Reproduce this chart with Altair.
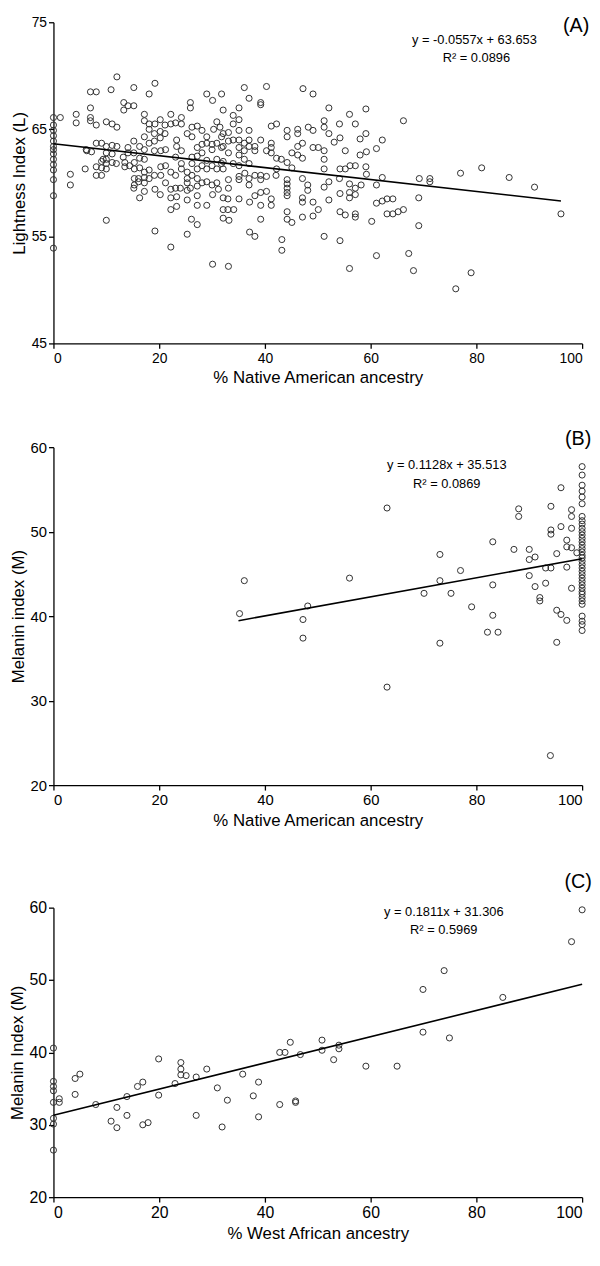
import altair as alt
import pandas as pd

FONT = "Liberation Sans"

# ---------------- Panel A: Lightness index vs % Native American ancestry
a_x = [0, 0, 0, 0, 0, 0, 0, 0, 0, 0, 0, 0, 0, 0,
       1.3, 4.3, 4.3, 3.2, 3.2, 6.2, 6.0, 7.0, 8.1, 7.0, 7.0, 7.0, 8.1, 8.1, 7.2, 8.1,
       8.1, 9.1, 9.1, 9.4, 10.0, 10.0, 10.0, 10.0, 10.9, 10.0, 11.1, 11.1, 11.1, 11.1,
       12.0, 12.0, 12.0, 9.1, 6.3, 9.1,
       15.2, 19.2, 18.1, 13.3, 13.3, 14.1, 15.2, 17.2, 17.2, 18.1, 19.2, 20.2, 22.2, 21.1,
       22.2, 23.1, 24.2, 24.2, 25.9, 25.9, 29.0, 30.1, 31.8, 26.2, 27.2, 28.1, 25.3, 26.2,
       30.9, 31.5, 30.3, 29.0, 29.0, 30.0, 30.9, 31.8, 18.1, 17.2, 19.1, 20.2, 20.2, 21.1,
       19.1, 18.1, 15.2, 16.3, 17.2, 23.3, 23.3, 24.2, 27.2, 28.1, 28.1, 30.0, 31.8, 14.1,
       15.2, 14.1, 13.2, 20.3, 21.2, 19.1, 17.2, 16.3, 15.3, 13.5, 11.9, 10.0, 10.0, 13.5,
       14.4, 15.3, 16.3, 17.2, 18.1, 19.1, 18.1, 17.2, 15.3, 16.1, 15.3, 16.1, 17.2, 20.3,
       21.2, 23.1, 24.2, 24.2, 26.2, 27.2, 28.1, 29.0, 30.0, 30.9, 31.8, 29.0, 30.9, 26.2,
       27.2, 22.2, 23.1, 25.3, 25.3, 26.2, 27.2, 25.3, 28.1, 29.0, 30.0, 30.9, 20.3, 21.2,
       23.1, 24.0, 25.9, 27.2,
       15.2, 16.3, 17.2, 19.2, 20.2, 19.2, 22.2, 22.2, 23.3, 22.2, 23.3, 25.3, 25.3, 27.2,
       27.2, 26.1, 27.2, 25.3, 22.2, 30.1, 29.0, 31.2, 32.1, 32.1, 30.1,
       33.1, 33.0, 32.1, 33.2, 33.0, 34.1, 35.1, 37.1, 38.1, 39.2, 40.3, 41.2, 41.2, 39.2,
       39.2, 37.1, 38.1, 43.2, 43.2, 44.2, 44.2, 44.2, 44.2, 45.1, 47.1, 47.1, 47.1, 48.1,
       49.1, 49.1, 50.1, 51.2, 52.1, 54.2, 54.2, 54.2, 55.2, 56.0, 56.0, 56.0, 57.1, 57.1,
       57.1, 60.2, 61.1, 62.2, 61.1, 63.1, 63.1,
       64.2, 64.2, 65.2, 66.2, 69.1, 69.1, 67.2, 68.1, 79.0, 76.1, 96.0, 66.2, 69.2, 71.2,
       71.2, 77.0, 81.0, 86.2, 91.0,
       36.1, 40.3, 37.0, 39.2, 39.2, 32.1, 35.1, 34.0, 35.1, 34.0, 47.2, 49.1, 52.1, 56.0,
       59.1, 51.2, 51.2, 54.1, 57.1, 41.2, 42.2, 44.2, 44.2, 46.2, 46.2, 48.2, 49.1, 52.1,
       59.1, 58.0, 62.2, 61.1, 59.2, 58.0, 59.1, 59.2, 56.1, 57.1, 55.2, 54.2, 55.2, 54.2,
       53.1, 51.2, 51.2, 51.2, 50.1, 49.1, 47.1, 46.2, 47.1, 46.2, 45.1, 44.2, 45.1, 43.1,
       42.2, 41.2, 41.2, 41.2, 39.2, 40.3, 38.1, 38.1, 37.0, 37.0, 36.1, 35.1, 34.0, 33.1,
       32.1, 33.1, 35.1, 37.0, 32.1, 33.1, 35.1, 36.1, 35.1, 36.1, 37.0, 35.1, 34.0, 32.1,
       32.1, 33.1, 35.1, 35.1, 36.2, 37.0, 38.1, 39.2, 40.3, 39.2, 37.0, 33.1, 42.1, 42.2,
       44.2, 44.2, 44.2, 47.1, 48.1, 51.2, 52.1, 54.1, 56.0, 57.1, 61.1, 62.2, 58.2]
a_y = [66.1, 65.4, 64.9, 64.4, 63.9, 63.4, 63.1, 62.7, 62.2, 61.7, 61.2, 60.3, 58.8, 53.9,
       66.1, 66.4, 65.6, 60.8, 59.8, 63.1, 61.3, 68.5, 68.5, 67.0, 66.1, 65.8, 65.4, 63.7, 62.9, 61.5,
       60.7, 61.4, 60.7, 62.2, 63.4, 62.8, 62.2, 56.5, 68.7, 65.7, 65.5, 63.5, 62.7, 61.9,
       69.9, 65.2, 63.4, 63.7, 63.0, 62.0,
       68.9, 69.3, 68.3, 67.5, 66.8, 67.2, 67.2, 66.4, 65.8, 65.5, 65.5, 65.9, 66.4, 65.4,
       65.5, 65.6, 66.1, 65.5, 67.5, 67.0, 68.3, 67.7, 68.3, 65.2, 65.3, 64.9, 64.6, 64.3,
       65.7, 65.2, 65.0, 64.3, 63.7, 63.6, 63.7, 64.3, 65.0, 64.3, 64.6, 64.8, 64.2, 64.6,
       63.9, 63.7, 63.9, 63.4, 63.1, 64.0, 63.4, 63.0, 63.3, 63.6, 62.8, 63.1, 63.3, 63.3,
       62.8, 62.8, 62.4, 63.0, 63.1, 63.0, 62.2, 62.3, 61.9, 61.9, 61.8, 61.8, 61.3, 61.5,
       61.6, 61.3, 61.4, 61.0, 61.2, 60.7, 60.4, 60.5, 60.4, 60.4, 59.8, 60.1, 60.0, 61.5,
       61.6, 62.4, 61.3, 61.8, 61.8, 61.3, 61.6, 61.3, 61.6, 61.3, 61.8, 62.1, 62.2, 62.4,
       62.5, 61.0, 60.7, 61.0, 60.4, 60.7, 60.4, 60.0, 60.0, 60.1, 59.8, 60.0, 60.7, 60.0,
       59.5, 59.5, 59.5, 59.7,
       59.5, 58.6, 59.2, 59.4, 58.9, 55.5, 59.4, 58.6, 58.7, 57.5, 57.8, 59.3, 58.4, 58.8,
       57.9, 56.6, 56.1, 55.2, 54.0, 58.9, 57.9, 59.4, 58.6, 57.5, 52.4,
       52.2, 58.5, 56.7, 56.5, 57.5, 57.5, 58.5, 58.2, 58.8, 59.1, 59.2, 58.5, 57.9, 57.9,
       56.6, 55.4, 55.0, 54.7, 53.7, 59.1, 58.8, 57.3, 56.6, 56.3, 58.6, 58.2, 56.8, 59.3,
       58.2, 56.9, 57.5, 55.0, 58.4, 59.0, 57.3, 54.6, 57.0, 59.1, 58.6, 52.0, 58.9, 57.1,
       56.8, 56.4, 58.1, 58.3, 53.2, 58.5, 57.1,
       58.5, 57.1, 57.3, 57.5, 58.6, 56.0, 53.4, 51.8, 51.6, 50.1, 57.1, 65.8, 60.4, 60.4,
       60.1, 60.9, 61.4, 60.5, 59.6,
       68.9, 69.0, 67.9, 67.5, 67.3, 66.8, 67.0, 66.3, 65.9, 65.5, 68.8, 68.3, 67.0, 66.4,
       66.9, 65.8, 65.2, 65.5, 65.5, 65.3, 65.5, 64.9, 64.3, 65.0, 64.6, 65.2, 64.9, 64.6,
       64.6, 64.1, 64.0, 63.2, 62.9, 62.6, 61.5, 60.8, 61.6, 61.6, 61.3, 61.3, 63.0, 64.2,
       63.8, 63.0, 62.2, 61.3, 63.3, 63.3, 63.7, 63.4, 62.3, 62.6, 62.8, 61.9, 61.4, 62.2,
       62.3, 63.3, 62.8, 63.7, 64.0, 63.0, 63.4, 63.0, 63.4, 64.0, 63.7, 64.0, 64.0, 63.9,
       64.6, 64.7, 64.9, 64.9, 63.4, 62.8, 63.3, 63.0, 62.6, 62.2, 61.8, 61.6, 61.8, 62.0,
       61.3, 60.3, 60.6, 60.3, 60.9, 60.4, 60.7, 60.7, 60.6, 60.3, 59.8, 59.5, 60.7, 61.3,
       60.3, 59.9, 59.5, 60.4, 59.8, 59.6, 60.1, 60.4, 59.9, 59.5, 59.8, 60.5, 59.8]

# ---------------- Panel B: Melanin index vs % Native American ancestry
b_col100 = [57.7, 56.7, 55.5, 54.8, 54.1, 53.3, 51.8, 51.3, 50.9, 50.4, 50.0, 49.6, 49.2,
            48.8, 48.4, 48.0, 47.6, 47.2, 46.9, 46.5, 46.1, 45.7, 45.3, 44.9, 44.5, 44.1,
            43.7, 43.3, 42.9, 42.6, 42.2, 41.8, 41.4, 40.0, 39.4, 39.0, 38.3]
b_x_other = [56.0, 63.1, 63.1, 70.1, 73.1, 73.1, 73.1, 75.2, 77.0, 79.1, 82.1, 83.1, 83.1,
             83.1, 84.1, 87.1, 88.0, 88.0, 90.0, 90.0, 91.1, 90.0, 91.1, 92.0, 92.0, 93.1,
             93.1, 94.1, 94.1, 94.1, 94.1, 95.2, 95.2, 96.0, 95.2, 96.0, 96.0, 97.1, 97.1,
             97.1, 97.1, 98.0, 98.0, 98.0, 98.0, 98.0, 99.0, 36.1, 35.2, 48.1, 47.2, 47.2, 94.0]
b_y_other = [44.5, 52.8, 31.6, 42.7, 47.3, 44.2, 36.8, 42.7, 45.4, 41.1, 38.1, 48.8, 43.7,
             40.1, 38.1, 47.9, 52.7, 51.8, 47.9, 46.7, 47.0, 44.8, 43.5, 42.2, 41.8, 45.7,
             43.9, 53.0, 50.2, 49.7, 45.7, 47.4, 40.7, 40.2, 36.9, 55.2, 50.6, 49.0, 48.2,
             45.8, 39.5, 52.6, 51.8, 50.4, 48.1, 43.3, 47.5, 44.2, 40.3, 41.2, 39.6, 37.4, 23.5]
b_x = [100.0] * len(b_col100) + b_x_other
b_y = b_col100 + b_y_other

# ---------------- Panel C: Melanin index vs % West African ancestry
c_x = [0, 0, 0, 0, 0, 0, 0, 0, 1.1, 1.1, 4.1, 5.0, 4.1, 8.0, 10.9, 12.0, 12.0, 13.9, 13.9,
       15.9, 16.9, 16.9, 17.9, 19.9, 19.9, 23.0, 24.1, 24.1, 24.1, 25.1, 27.0, 27.0, 29.0,
       31.0, 31.9, 32.9, 35.8, 37.8, 38.8, 38.8, 42.8, 43.8, 42.8, 44.8, 45.8, 45.8, 46.7,
       50.8, 50.8, 54.0, 54.0, 53.0, 59.1, 65.0, 69.9, 69.9, 73.9, 74.9, 85.0, 98.0, 100.0]
c_y = [40.6, 36.0, 35.3, 34.7, 33.1, 30.9, 30.1, 26.5, 33.6, 33.1, 36.4, 37.0, 34.2, 32.8,
       30.5, 29.6, 32.4, 33.9, 31.3, 35.3, 35.9, 30.0, 30.3, 39.1, 34.1, 35.7, 38.6, 37.7,
       36.9, 36.8, 36.6, 31.3, 37.7, 35.1, 29.7, 33.4, 37.0, 34.0, 35.9, 31.1, 40.0, 40.0,
       32.8, 41.4, 33.3, 33.1, 39.7, 41.7, 40.3, 41.0, 40.5, 39.0, 38.1, 38.1, 48.7, 42.8,
       51.3, 42.0, 47.6, 55.3, 59.7]

# ---------------- Fitted lines (slope, intercept, x start, x end) and labels
fit_slope = [-0.0557, 0.1128, 0.1811]
fit_icept = [63.653, 35.513, 31.306]
fit_x0 = [0, 35, 0]
fit_x1 = [96, 100, 100]
eq_text = ["y = -0.0557x + 63.653", "y = 0.1128x + 35.513", "y = 0.1811x + 31.306"]
r2_text = ["R\u00b2 = 0.0896", "R\u00b2 = 0.0869", "R\u00b2 = 0.5969"]
panel_tag = ["(A)", "(B)", "(C)"]
x_titles = ["% Native American ancestry", "% Native American ancestry", "% West African ancestry"]
y_titles = ["Lightness Index (L)", "Melanin index (M)", "Melanin Index (M)"]
y_domains = [[45, 75], [20, 60], [20, 60]]
y_ticks = [[45, 55, 65, 75], [20, 30, 40, 50, 60], [20, 30, 40, 50, 60]]
x_ticks = [0, 20, 40, 60, 80, 100]

W = 535
HEIGHTS = [325, 342, 293]
# (eq x, eq y, r2 x, r2 y, tag x, tag y) in pixels relative to each plot
TEXT_POS = [(426, 18, 428, 36, 529, 4),
            (398, 18, 398, 37, 531, -8),
            (395, 4, 395, 23, 531, -26)]
TICK_FS = [14, 15, 16]
TITLE_FS = [17, 17, 17]


def panel(i, xs, ys):
    pts = pd.DataFrame({"x": xs, "y": ys})
    m, b = fit_slope[i], fit_icept[i]
    x0, x1 = fit_x0[i], fit_x1[i]
    line_df = pd.DataFrame({"x": [x0, x1], "y": [m * x0 + b, m * x1 + b]})
    xscale = alt.Scale(domain=[0, 100], nice=False, zero=False)
    yscale = alt.Scale(domain=y_domains[i], nice=False, zero=False)
    xaxis = alt.Axis(values=x_ticks, title=x_titles[i], labelFontSize=TICK_FS[i],
                     titleFontSize=TITLE_FS[i], titleFontWeight="normal", grid=False,
                     labelPadding=3, titlePadding=5)
    yaxis = alt.Axis(values=y_ticks[i], title=y_titles[i], labelFontSize=TICK_FS[i],
                     titleFontSize=TITLE_FS[i], titleFontWeight="normal", grid=False,
                     labelPadding=2, titlePadding=3)
    points = alt.Chart(pts).mark_point(
        shape="circle", filled=False, size=38, strokeWidth=1.0, color="#303030", opacity=1
    ).encode(x=alt.X("x:Q", scale=xscale, axis=xaxis),
             y=alt.Y("y:Q", scale=yscale, axis=yaxis))
    line = alt.Chart(line_df).mark_line(color="black", strokeWidth=1.6).encode(
        x=alt.X("x:Q", scale=xscale), y=alt.Y("y:Q", scale=yscale))
    ex, ey, rx, ry, tx, ty = TEXT_POS[i]

    def label(txt, px, py, fs):
        return alt.Chart(pd.DataFrame({"t": [txt]})).mark_text(
            font=FONT, fontSize=fs, color="black", align="center", baseline="middle"
        ).encode(x=alt.value(px), y=alt.value(py), text="t:N")

    return alt.layer(
        points, line,
        label(eq_text[i], ex, ey, 13),
        label(r2_text[i], rx, ry, 13),
        label(panel_tag[i], tx, ty, 20),
    ).properties(width=W, height=HEIGHTS[i])


chart = alt.vconcat(
    panel(0, a_x, a_y),
    panel(1, b_x, b_y),
    panel(2, c_x, c_y),
    spacing=44,
).properties(
    padding={"left": 0, "top": 0, "right": 0, "bottom": 0},
    background="white",
).configure_view(stroke=None).configure_axis(
    grid=False, domainColor="black", domainWidth=1.3, tickColor="black", tickWidth=1.3,
    tickSize=5, labelColor="black", titleColor="black", labelFont=FONT, titleFont=FONT,
    titleFontWeight="normal"
)

chart.save("out.html", embed_options={"renderer": "svg", "actions": False})
